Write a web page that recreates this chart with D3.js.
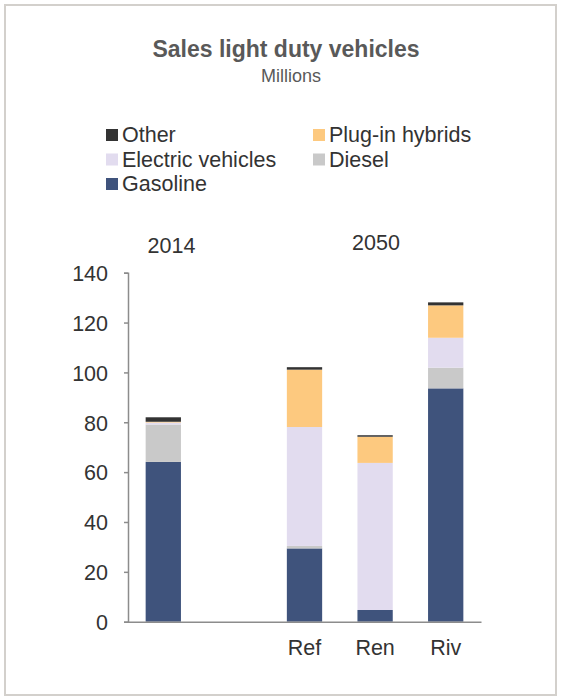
<!DOCTYPE html>
<html>
<head>
<meta charset="utf-8">
<script src="https://cdn.jsdelivr.net/npm/d3@7"></script>
<style>
  html, body { margin: 0; padding: 0; background: #fff; }
  svg { display: block; font-family: "Liberation Sans", Arial, sans-serif; }
</style>
</head>
<body>
<svg id="chart" width="564" height="697"></svg>
<script>
// Light duty vehicle sales, millions
const categories = ["2014", "gap", "Ref", "Ren", "Riv"];
const tickLabels = ["", "", "Ref", "Ren", "Riv"];
const seriesNames = ["Gasoline", "Diesel", "Electric vehicles", "Plug-in hybrids", "Other"];
const gasoline = [64.1, null, 29.4, 4.7, 93.6];
const diesel = [15.0, null, 1.0, 0.0, 8.3];
const electric = [0.8, null, 47.7, 59.0, 12.0];
const plugin = [0.3, null, 23.0, 10.5, 13.0];
const other = [1.8, null, 1.0, 0.6, 1.2];
const yTicks = [0, 20, 40, 60, 80, 100, 120, 140];
const groupLabels = [
  { text: "2014", x: 171.5, y: 253 },
  { text: "2050", x: 376, y: 250 }
];

const colors = {
  "Gasoline": "#3f537c",
  "Diesel": "#c9c9c9",
  "Electric vehicles": "#e2dcef",
  "Plug-in hybrids": "#fdc97f",
  "Other": "#333333"
};

const FONT = 21.5;
const TEXT = "#333333";

const seriesValues = [gasoline, diesel, electric, plugin, other];
const rows = categories.map((c, i) => {
  const r = { cat: c };
  seriesNames.forEach((s, k) => { r[s] = seriesValues[k][i] || 0; });
  return r;
});

const svg = d3.select("#chart");

// frame
svg.append("rect")
  .attr("x", 5).attr("y", 5).attr("width", 551).attr("height", 690)
  .attr("fill", "none").attr("stroke", "#d3d0cc").attr("stroke-width", 2);

// titles
svg.append("text").attr("x", 286).attr("y", 57)
  .attr("text-anchor", "middle").attr("font-size", 23).attr("font-weight", "bold")
  .attr("fill", "#595959").text("Sales light duty vehicles");
svg.append("text").attr("x", 291).attr("y", 82)
  .attr("text-anchor", "middle").attr("font-size", 18)
  .attr("fill", "#595959").text("Millions");

// legend
const legendItems = [
  { name: "Other", x: 106, y: 142 },
  { name: "Plug-in hybrids", x: 313, y: 142 },
  { name: "Electric vehicles", x: 106, y: 166.5 },
  { name: "Diesel", x: 313, y: 166.5 },
  { name: "Gasoline", x: 106, y: 191 }
];
const lg = svg.append("g").selectAll("g").data(legendItems).join("g")
  .attr("transform", d => `translate(${d.x},${d.y})`);
lg.append("rect").attr("x", 0).attr("y", -13).attr("width", 12).attr("height", 12)
  .attr("fill", d => colors[d.name]);
lg.append("text").attr("x", 16).attr("y", 0).attr("font-size", FONT)
  .attr("fill", TEXT).text(d => d.name);

// scales
const x = d3.scaleBand().domain(categories).range([128, 481]).paddingInner(0.5).paddingOuter(0.25);
const y = d3.scaleLinear().domain([0, 140]).range([621.7, 272.7]);

const stack = d3.stack().keys(seriesNames);
const layers = stack(rows);

svg.append("g").selectAll("g").data(layers).join("g")
  .attr("fill", d => colors[d.key])
  .selectAll("rect").data(d => d.filter(p => p.data.cat !== "gap"))
  .join("rect")
  .attr("x", d => x(d.data.cat))
  .attr("width", x.bandwidth())
  .attr("y", d => y(d[1]))
  .attr("height", d => Math.max(0, y(d[0]) - y(d[1])));

// y axis
const yAxis = svg.append("g").attr("transform", "translate(128,0)")
  .call(d3.axisLeft(y).tickValues(yTicks).tickSize(4).tickSizeOuter(4));
yAxis.select(".domain").attr("stroke", "#8c8c8c").attr("stroke-width", 1.5);
yAxis.selectAll(".tick line").attr("stroke", "#8c8c8c").attr("stroke-width", 1.5);
yAxis.selectAll(".tick text").attr("font-size", FONT).attr("fill", TEXT)
  .attr("font-family", "Liberation Sans, Arial, sans-serif").attr("x", -20).attr("dy", "0.36em");

// x axis
const xAxis = svg.append("g").attr("transform", "translate(0,621.7)")
  .call(d3.axisBottom(x).tickSize(0).tickSizeOuter(0).tickFormat((d, i) => tickLabels[i]));
xAxis.select(".domain").attr("stroke", "#8c8c8c").attr("stroke-width", 1.5);
xAxis.selectAll(".tick text").attr("font-size", FONT).attr("fill", TEXT)
  .attr("font-family", "Liberation Sans, Arial, sans-serif").attr("y", 33.5).attr("dy", 0);

// period labels
svg.append("g").selectAll("text").data(groupLabels).join("text")
  .attr("x", d => d.x).attr("y", d => d.y)
  .attr("text-anchor", "middle").attr("font-size", FONT).attr("fill", TEXT)
  .text(d => d.text);
</script>
</body>
</html>
